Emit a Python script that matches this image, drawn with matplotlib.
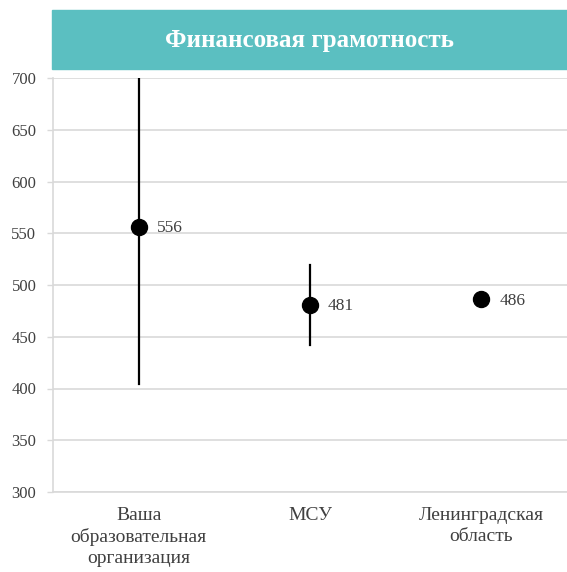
import numpy as np
import matplotlib.pyplot as plt
from matplotlib.patches import Rectangle

# данные
categories = ["Ваша\nобразовательная\nорганизация", "МСУ", "Ленинградская\nобласть"]
scores = [556, 481, 486]
err_low = [404, 442, None]
err_high = [712, 519, None]
title = "Финансовая грамотность"

plt.rcParams['font.family'] = ['Liberation Serif', 'DejaVu Serif']

fig = plt.figure(figsize=(5.67, 5.72), dpi=100)
ax = fig.add_axes([53/567, 1 - 492/572, 1 - 53/567, (492 - 78)/572])

x = np.arange(len(categories))
for i in range(len(categories)):
    if err_low[i] is not None:
        ax.plot([x[i], x[i]], [err_low[i], err_high[i]], color='black', lw=1.6, zorder=3)
ax.plot(x, scores, 'o', color='black', markersize=11.5, zorder=4, linestyle='none')

for i, v in enumerate(scores):
    ax.annotate(str(v), (x[i], v), xytext=(13, -1), textcoords='offset points',
                va='center', ha='left', fontsize=12.5, color='#404040')

ax.set_xlim(-0.5, 2.5)
ax.set_ylim(300, 700)
ax.set_yticks(np.arange(300, 701, 50))
ax.set_xticks(x)
ax.set_xticklabels(categories, fontsize=14, color='#404040', linespacing=1.3)
ax.tick_params(axis='y', labelsize=12, labelcolor='#404040', color='#D9D9D9', length=4, width=1, pad=8)
ax.tick_params(axis='x', length=0, pad=11)
ax.grid(axis='y', color='#D9D9D9', lw=1.2)
ax.set_axisbelow(True)
for s in ['top', 'right']:
    ax.spines[s].set_visible(False)
ax.spines['left'].set_color('#D9D9D9')
ax.spines['bottom'].set_color('#D9D9D9')
ax.spines['left'].set_linewidth(1.2)
ax.spines['bottom'].set_linewidth(1.2)

# заголовок-плашка
fig.patches.append(Rectangle((52/567, 1 - 69/572), 1 - 52/567, 59/572,
                             transform=fig.transFigure, color='#5BBFC1', zorder=0))
fig.text((52 + 567)/2/567, 1 - 41/572, title, ha='center', va='center',
         color='white', fontsize=18, fontweight='bold')

fig.savefig('out.png', dpi=100)
